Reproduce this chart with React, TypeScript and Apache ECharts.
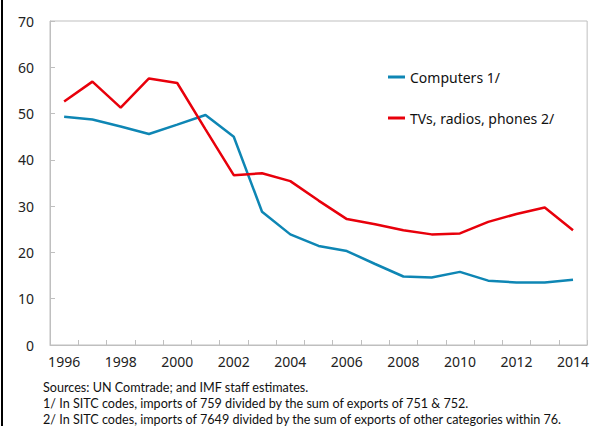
import React, { useEffect, useRef } from "react";
import * as echarts from "echarts";

const years = [
  "1996", "1997", "1998", "1999", "2000", "2001", "2002", "2003", "2004", "2005",
  "2006", "2007", "2008", "2009", "2010", "2011", "2012", "2013", "2014",
];
const computers = [
  49.3, 48.7, 47.2, 45.6, 47.6, 49.7, 45.0, 28.8, 23.9, 21.4,
  20.3, 17.5, 14.8, 14.6, 15.8, 13.9, 13.5, 13.5, 14.1,
];
const tvsRadiosPhones = [
  52.6, 56.9, 51.3, 57.6, 56.6, 46.6, 36.7, 37.1, 35.4, 31.2,
  27.2, 26.1, 24.8, 23.9, 24.1, 26.6, 28.3, 29.7, 24.8,
];
const yTicks = { min: 0, max: 70, interval: 10 };
const footnotes = [
  "Sources: UN Comtrade; and IMF staff estimates.",
  "1/ In SITC codes, imports of 759 divided by the sum of exports of 751 & 752.",
  "2/ In SITC codes, imports of 7649 divided by the sum of exports of other categories within 76.",
];

export default function App() {
  const ref = useRef<HTMLDivElement>(null);
  useEffect(() => {
    if (!ref.current) return;
    const chart = echarts.init(ref.current, null, { renderer: "svg" });
    const font = "'Noto Sans', sans-serif";
    const gray = "#BFBFBF";
    chart.setOption({
      animation: false,
      backgroundColor: "#ffffff",
      textStyle: { fontFamily: font },
      grid: {
        left: 50, right: 4, top: 21, bottom: 81,
        show: true, borderColor: gray, borderWidth: 1, backgroundColor: "transparent",
      },
      legend: {
        orient: "vertical",
        left: 388,
        top: 70,
        padding: 0,
        itemWidth: 17,
        itemHeight: 3,
        itemGap: 27,
        icon: "rect",
        textStyle: { fontSize: 14, color: "#111", fontFamily: font },
        data: ["Computers 1/", "TVs, radios, phones 2/"],
      },
      xAxis: {
        type: "category",
        data: years,
        boundaryGap: true,
        axisLine: { lineStyle: { color: gray, width: 1 } },
        axisTick: { show: true, inside: true, length: 5, interval: 0, lineStyle: { color: gray } },
        axisLabel: { interval: 1, fontSize: 14, color: "#222", margin: 9, fontFamily: font },
        splitLine: { show: false },
      },
      yAxis: {
        type: "value",
        min: yTicks.min,
        max: yTicks.max,
        interval: yTicks.interval,
        axisLine: { show: true, lineStyle: { color: gray, width: 1 } },
        axisTick: { show: true, inside: true, length: 5, lineStyle: { color: gray } },
        axisLabel: { fontSize: 14, color: "#222", margin: 16, fontFamily: font },
        splitLine: { show: false },
      },
      series: [
        {
          name: "Computers 1/",
          type: "line",
          data: computers,
          symbol: "none",
          color: "#0E86B4",
          lineStyle: { width: 2.5, color: "#0E86B4" },
        },
        {
          name: "TVs, radios, phones 2/",
          type: "line",
          data: tvsRadiosPhones,
          symbol: "none",
          color: "#E8000B",
          lineStyle: { width: 2.5, color: "#E8000B" },
        },
      ],
      graphic: [
        { type: "rect", left: 1, top: 0, shape: { width: 2, height: 426 }, style: { fill: "#000" } },
        ...footnotes.map((t, i) => ({
          type: "text",
          left: 43,
          top: 381 + i * 16,
          style: { text: t, fontSize: 12.6, fill: "#111", fontFamily: "Lato, sans-serif" },
        })),
      ],
    });
    return () => chart.dispose();
  }, []);
  return (
    <div
      ref={ref}
      style={{ position: "fixed", left: 0, top: 0, width: 592, height: 426 }}
    />
  );
}
